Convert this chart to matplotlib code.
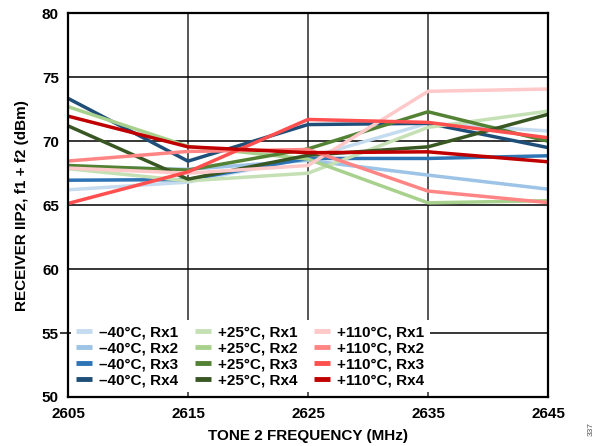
import matplotlib
matplotlib.use("Agg")
import matplotlib.pyplot as plt

plt.rcParams['font.family'] = ['Liberation Sans', 'DejaVu Sans']
plt.rcParams['font.weight'] = 'bold'

freq = [2605, 2615, 2625, 2635, 2645]

# IIP2 values (dBm)
m40_rx1 = [66.2, 66.8, 68.7, 71.4, 70.8]
m40_rx2 = [68.0, 67.8, 68.5, 67.35, 66.25]
m40_rx3 = [66.95, 67.0, 68.65, 68.65, 68.86]
m40_rx4 = [73.35, 68.44, 71.3, 71.4, 69.5]
p25_rx1 = [67.85, 66.9, 67.5, 71.08, 72.35]
p25_rx2 = [72.7, 69.6, 68.6, 65.18, 65.35]
p25_rx3 = [68.1, 67.74, 69.4, 72.3, 70.0]
p25_rx4 = [71.2, 67.03, 68.9, 69.56, 72.1]
p110_rx1 = [67.9, 67.5, 68.1, 73.9, 74.08]
p110_rx2 = [68.45, 69.2, 69.35, 66.1, 65.2]
p110_rx3 = [65.13, 67.6, 71.7, 71.47, 70.27]
p110_rx4 = [71.96, 69.56, 69.1, 69.17, 68.39]

series = [
    ('–40°C, Rx1', m40_rx1, '#c5dcf0'),
    ('–40°C, Rx2', m40_rx2, '#9dc3e6'),
    ('–40°C, Rx3', m40_rx3, '#2e75b6'),
    ('–40°C, Rx4', m40_rx4, '#1f4e79'),
    ('+25°C, Rx1', p25_rx1, '#c5e0b4'),
    ('+25°C, Rx2', p25_rx2, '#a9d18e'),
    ('+25°C, Rx3', p25_rx3, '#548235'),
    ('+25°C, Rx4', p25_rx4, '#385723'),
    ('+110°C, Rx1', p110_rx1, '#ffc9c9'),
    ('+110°C, Rx2', p110_rx2, '#ff8585'),
    ('+110°C, Rx3', p110_rx3, '#ff4f4f'),
    ('+110°C, Rx4', p110_rx4, '#c00000'),
]

fig = plt.figure(figsize=(6.04, 4.46), dpi=100)
ax = fig.add_axes([68 / 604, 1 - 397 / 446, 480 / 604, 383.7 / 446])

for label, vals, col in series:
    ax.plot(freq, vals, color=col, lw=2.5, label=label, solid_capstyle='butt')

ax.set_xlim(2605, 2645)
ax.set_ylim(50, 80)
ax.set_xticks(freq)
ax.set_yticks([50, 55, 60, 65, 70, 75, 80])
ax.grid(True, color='black', lw=1.1)
ax.xaxis.grid(True, color='#3a3a3a', lw=1.2)
ax.set_axisbelow(True)

for s in ax.spines.values():
    s.set_linewidth(1.6)

ax.tick_params(axis='x', length=0, pad=7, labelsize=11)
ax.tick_params(axis='y', length=6, width=1.1, direction='out', pad=0.5, labelsize=11)
for t, v in zip(ax.yaxis.get_major_ticks(), [50, 55, 60, 65, 70, 75, 80]):
    if v != 55:
        t.tick1line.set_visible(False)

ax.set_xlabel('TONE 2 FREQUENCY (MHz)', fontsize=11, fontweight='bold', labelpad=6)
ax.set_ylabel('RECEIVER IIP2, f1 + f2 (dBm)', fontsize=11, fontweight='bold', labelpad=9)

leg = ax.legend(ncol=3, loc='lower left', bbox_to_anchor=(0.006, 0.012), borderaxespad=0,
                fontsize=11, frameon=True, fancybox=False, framealpha=1,
                facecolor='white', edgecolor='none', handlelength=1.05,
                handletextpad=0.45, columnspacing=1.1, labelspacing=0.12, borderpad=0.35)
for h in leg.get_lines():
    h.set_linewidth(3.5)
leg.set_zorder(5)

fig.text(0.978, 0.022, '337', rotation=90, fontsize=6, color='#555555',
         fontweight='normal', ha='center', va='bottom')

fig.savefig('out.png', dpi=100)
